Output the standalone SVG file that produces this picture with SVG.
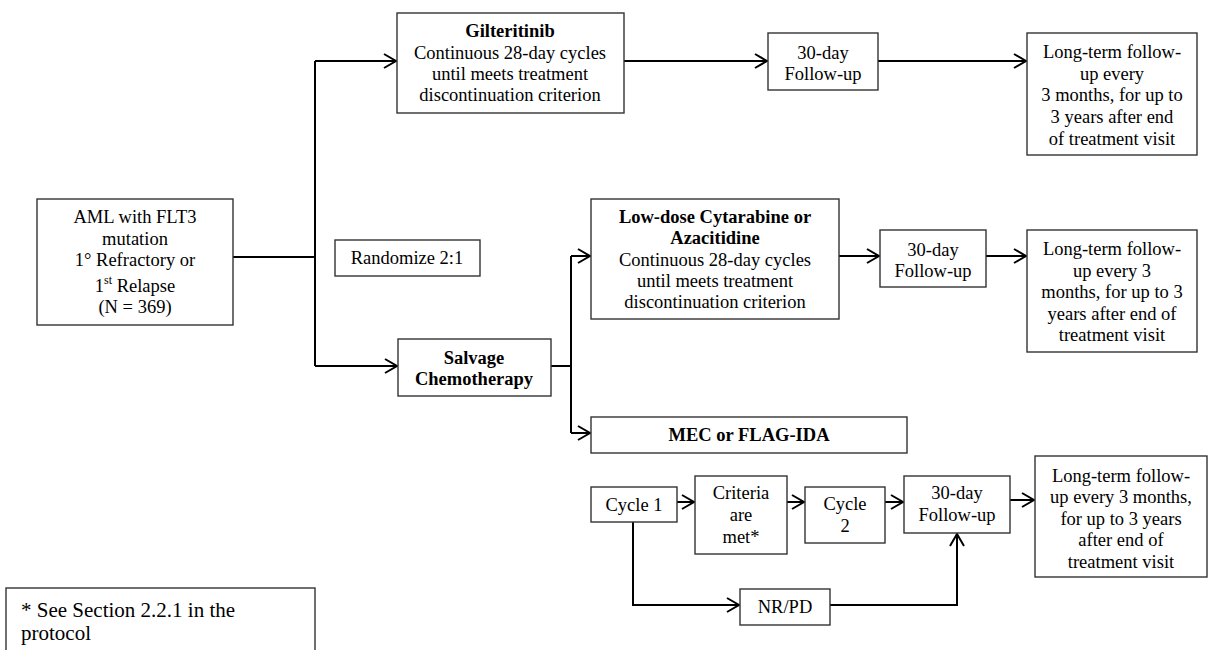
<svg xmlns="http://www.w3.org/2000/svg" width="1209" height="650" viewBox="0 0 1209 650" font-family="Liberation Serif, Times New Roman, serif">
<style>
.box{fill:#fff;stroke:#333;stroke-width:1.4}
text{font-size:18.5px;fill:#000;text-anchor:middle}
.b{font-weight:bold}
.c{fill:none;stroke:#000;stroke-width:2}
.ah{fill:none;stroke:#000;stroke-width:2}
.fn{text-anchor:start;font-size:21px}
</style>
<defs>
<marker id="arr" markerWidth="16" markerHeight="16" refX="13" refY="8" orient="auto" markerUnits="userSpaceOnUse">
<path d="M1,1 L13,8 L1,15" class="ah"/>
</marker>
</defs>
<rect width="1209" height="650" fill="#fff"/>
<g id="connectors">
<path class="c" d="M233,257 H315"/>
<path class="c" d="M315,61 V366"/>
<path class="c" d="M315,61 H396" marker-end="url(#arr)"/>
<path class="c" d="M315,366 H397" marker-end="url(#arr)"/>
<path class="c" d="M624,61 H767" marker-end="url(#arr)"/>
<path class="c" d="M878,61 H1026" marker-end="url(#arr)"/>
<path class="c" d="M551,366 H571"/>
<path class="c" d="M571,256 V433"/>
<path class="c" d="M571,256 H590" marker-end="url(#arr)"/>
<path class="c" d="M571,433 H590" marker-end="url(#arr)"/>
<path class="c" d="M839,256 H879" marker-end="url(#arr)"/>
<path class="c" d="M986,256 H1026" marker-end="url(#arr)"/>
<path class="c" d="M677,502 H694" marker-end="url(#arr)"/>
<path class="c" d="M787,502 H804" marker-end="url(#arr)"/>
<path class="c" d="M885,502 H903" marker-end="url(#arr)"/>
<path class="c" d="M1010,500 H1034" marker-end="url(#arr)"/>
<path class="c" d="M633,522 V605 H739" marker-end="url(#arr)"/>
<path class="c" d="M830,605 H957 V534" marker-end="url(#arr)"/>
</g>
<g id="aml">
<rect class="box" x="37" y="199" width="196" height="126"/>
<text x="135" y="223">AML with FLT3</text>
<text x="135" y="245">mutation</text>
<text x="135" y="266">1° Refractory or</text>
<text x="135" y="292">1<tspan font-size="12" dy="-8">st</tspan><tspan dy="8"> Relapse</tspan></text>
<text x="135" y="313">(N = 369)</text>
</g>
<g id="randomize">
<rect class="box" x="335" y="240" width="145" height="36"/>
<text x="407" y="264">Randomize 2:1</text>
</g>
<g id="gilteritinib">
<rect class="box" x="397" y="13" width="227" height="100"/>
<text class="b" x="510" y="37">Gilteritinib</text>
<text x="510" y="59">Continuous 28-day cycles</text>
<text x="510" y="80">until meets treatment</text>
<text x="510" y="101">discontinuation criterion</text>
</g>
<g id="fu1">
<rect class="box" x="768" y="33" width="110" height="57"/>
<text x="823" y="59">30-day</text>
<text x="823" y="80">Follow-up</text>
</g>
<g id="lt1">
<rect class="box" x="1027" y="33" width="170" height="122"/>
<text x="1112" y="58">Long-term follow-</text>
<text x="1112" y="80">up every</text>
<text x="1112" y="101">3 months, for up to</text>
<text x="1112" y="123">3 years after end</text>
<text x="1112" y="145">of treatment visit</text>
</g>
<g id="salvage">
<rect class="box" x="398" y="339" width="153" height="57"/>
<text class="b" x="474" y="364">Salvage</text>
<text class="b" x="474" y="385">Chemotherapy</text>
</g>
<g id="lowdose">
<rect class="box" x="591" y="199" width="248" height="120"/>
<text class="b" x="715" y="223">Low-dose Cytarabine or</text>
<text class="b" x="715" y="244">Azacitidine</text>
<text x="715" y="266">Continuous 28-day cycles</text>
<text x="715" y="287">until meets treatment</text>
<text x="715" y="308">discontinuation criterion</text>
</g>
<g id="fu2">
<rect class="box" x="880" y="230" width="106" height="57"/>
<text x="933" y="256">30-day</text>
<text x="933" y="277">Follow-up</text>
</g>
<g id="lt2">
<rect class="box" x="1027" y="230" width="170" height="122"/>
<text x="1112" y="255">Long-term follow-</text>
<text x="1112" y="277">up every 3</text>
<text x="1112" y="298">months, for up to 3</text>
<text x="1112" y="320">years after end of</text>
<text x="1112" y="341">treatment visit</text>
</g>
<g id="mec">
<rect class="box" x="591" y="417" width="316" height="36"/>
<text class="b" x="749" y="441">MEC or FLAG-IDA</text>
</g>
<g id="cycle1">
<rect class="box" x="591" y="487" width="86" height="35"/>
<text x="634" y="511">Cycle 1</text>
</g>
<g id="criteria">
<rect class="box" x="695" y="476" width="92" height="78"/>
<text x="741" y="499">Criteria</text>
<text x="741" y="521">are</text>
<text x="741" y="543">met*</text>
</g>
<g id="cycle2">
<rect class="box" x="805" y="487" width="80" height="56"/>
<text x="845" y="510">Cycle</text>
<text x="845" y="532">2</text>
</g>
<g id="fu3">
<rect class="box" x="904" y="476" width="106" height="57"/>
<text x="957" y="499">30-day</text>
<text x="957" y="521">Follow-up</text>
</g>
<g id="lt3">
<rect class="box" x="1035" y="456" width="172" height="121"/>
<text x="1121" y="482">Long-term follow-</text>
<text x="1121" y="503">up every 3 months,</text>
<text x="1121" y="525">for up to 3 years</text>
<text x="1121" y="546">after end of</text>
<text x="1121" y="568">treatment visit</text>
</g>
<g id="nrpd">
<rect class="box" x="740" y="589" width="90" height="36"/>
<text x="785" y="613">NR/PD</text>
</g>
<g id="footnote">
<rect class="box" x="6" y="588" width="309" height="70"/>
<text class="fn" x="21" y="617">* See Section 2.2.1 in the</text>
<text class="fn" x="21" y="640">protocol</text>
</g>
</svg>
